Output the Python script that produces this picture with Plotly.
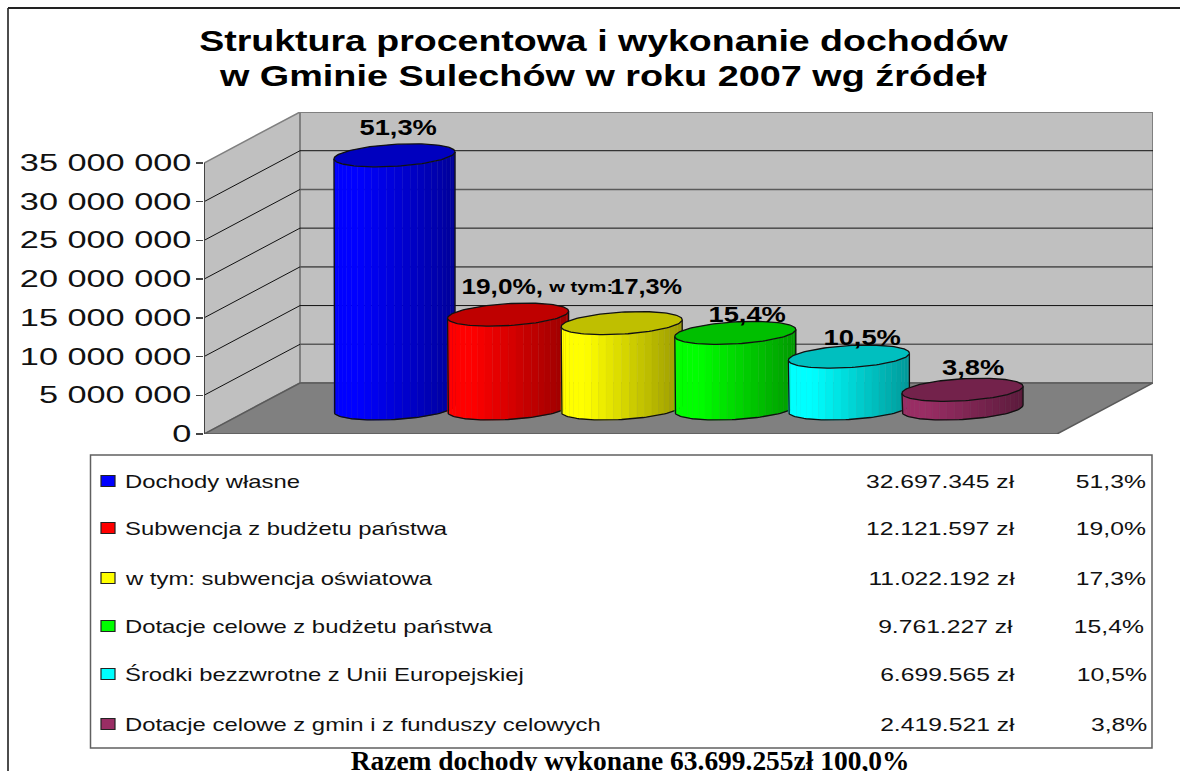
import json
import math
import plotly.graph_objects as go

# ---- data ----
series_names = ["Dochody własne", "Subwencja z budżetu państwa", "w tym: subwencja oświatowa",
                "Dotacje celowe z budżetu państwa", "Środki bezzwrotne z Unii Europejskiej",
                "Dotacje celowe z gmin i z funduszy celowych"]
values = [32697345, 12121597, 11022192, 9761227, 6699565, 2419521]
value_labels = ["32.697.345 zł", "12.121.597 zł", "11.022.192 zł", "9.761.227 zł", "6.699.565 zł", "2.419.521 zł"]
share_labels = ["51,3%", "19,0%", "17,3%", "15,4%", "10,5%", "3,8%"]
colors = [(0, 0, 255), (255, 0, 0), (255, 255, 0), (0, 255, 0), (0, 255, 255), (153, 45, 100)]
y_ticks = [0, 5000000, 10000000, 15000000, 20000000, 25000000, 30000000, 35000000]
title_lines = ["Struktura procentowa i wykonanie dochodów", "w Gminie Sulechów w roku 2007 wg źródeł"]
footer = "Razem dochody wykonane 63.699.255zł 100,0%"

# ---- layout constants ----
W, H = 1180, 771
PLOT_L, PLOT_R, PLOT_T, PLOT_B = 204, 1153, 112, 434
FRONT_TOP = 163
PX_PER_Y = (PLOT_B - FRONT_TOP) / 35e6
PX_PER_X = 113.6
FIRST_BAR = 346.5
DEPTH_X, DEPTH_Y = 96 / PX_PER_X, 51 / PX_PER_Y
X0 = (PLOT_L - FIRST_BAR) / PX_PER_X
X1 = (PLOT_R - FIRST_BAR) / PX_PER_X
Y1 = (PLOT_B - PLOT_T) / PX_PER_Y
YTOP = 35e6
FRONT_R = X1 - DEPTH_X

def px(x): return x / W
def py(y): return 1 - y / H

fig = go.Figure()

def poly(pts):
    return "M" + " L".join(f"{a},{b}" for a, b in pts) + " Z"

shapes = [
    dict(type="path", path=poly([(X0, 0), (X0 + DEPTH_X, DEPTH_Y), (X0 + DEPTH_X, YTOP + DEPTH_Y), (X0, YTOP)]),
         fillcolor="#c0c0c0", line=dict(color="#808080", width=1.5), layer="below"),
    dict(type="path", path=poly([(X0 + DEPTH_X, DEPTH_Y), (X1, DEPTH_Y), (X1, YTOP + DEPTH_Y), (X0 + DEPTH_X, YTOP + DEPTH_Y)]),
         fillcolor="#c0c0c0", line=dict(color="#808080", width=2), layer="below"),
    dict(type="path", path=poly([(X0, 0), (FRONT_R, 0), (X1, DEPTH_Y), (X0 + DEPTH_X, DEPTH_Y)]),
         fillcolor="#808080", line=dict(color="#5a5a5a", width=1.5), layer="below"),
]
for k, t in enumerate(y_ticks[1:-1]):
    gridcolor = "#5a5a5a" if k % 2 == 0 else "#111111"
    gridw = 1.6 if k % 2 == 0 else 1
    shapes.append(dict(type="line", x0=X0, y0=t, x1=X0 + DEPTH_X, y1=t + DEPTH_Y,
                       line=dict(color="#111111", width=1), layer="below"))
    shapes.append(dict(type="line", x0=X0 + DEPTH_X, y0=t + DEPTH_Y, x1=X1, y1=t + DEPTH_Y,
                       line=dict(color=gridcolor, width=gridw), layer="below"))
shapes.append(dict(type="line", x0=X0, y0=0, x1=X0, y1=YTOP, line=dict(color="#444444", width=2), layer="below"))

# cylinders
A = 60.5 / PX_PER_X
B = 11 / PX_PER_Y
S = 3.5 / PX_PER_Y
STRIPS = 24

def rim(cx, cy, t):
    return cx + A * math.cos(t), cy + B * math.sin(t) + S * math.cos(t)

def shade(c, f):
    return "rgb(%d,%d,%d)" % tuple(round(v * f) for v in c)

for i, (v, c) in enumerate(zip(values, colors)):
    cx = i + DEPTH_X / 2
    base, top = DEPTH_Y / 2, v + DEPTH_Y / 2
    for s in range(STRIPS):
        t0 = math.pi + math.pi * s / STRIPS
        t1 = math.pi + math.pi * (s + 1) / STRIPS
        pts = [rim(cx, base, t0), rim(cx, base, t1), rim(cx, top, t1), rim(cx, top, t0)]
        frac = (rim(cx, 0, (t0 + t1) / 2)[0] - (cx - A)) / (2 * A)
        f = 1.0 if frac < 0.2 else 1.0 - 0.4 * (frac - 0.2) / 0.8
        fig.add_trace(go.Scatter(x=[p[0] for p in pts] + [pts[0][0]], y=[p[1] for p in pts] + [pts[0][1]],
                                 mode="lines", fill="toself", fillcolor=shade(c, f),
                                 line=dict(color=shade(c, f), width=0.4),
                                 hoverinfo="skip", showlegend=False))
    n = 60
    outline = [rim(cx, top, math.pi)] + [rim(cx, base, math.pi + math.pi * k / n) for k in range(n + 1)] + [rim(cx, top, 0)]
    fig.add_trace(go.Scatter(x=[p[0] for p in outline], y=[p[1] for p in outline],
                             mode="lines", line=dict(color="#111111", width=1.3), hoverinfo="skip", showlegend=False))
    capn = 2 * n
    cap = [rim(cx, top, 2 * math.pi * k / capn) for k in range(capn + 1)]
    fig.add_trace(go.Scatter(x=[p[0] for p in cap], y=[p[1] for p in cap], mode="lines", fill="toself",
                             fillcolor=shade(c, 0.75), line=dict(color="#111111", width=1.3),
                             hoverinfo="skip", showlegend=False))

annotations = []
stretch = {}

def note(text, x, y, size, anchor="center", family="Liberation Sans", bold=False, factor=1.0, color="#000000"):
    nudge = {"left": -2, "right": 2, "center": 0}[anchor]
    annotations.append(dict(text=text, x=px(x + nudge), y=py(y), xref="paper", yref="paper", showarrow=False,
                            xanchor=anchor, yanchor="middle", align=anchor,
                            font=dict(family=family, size=size, color=color, weight=700 if bold else 400)))
    stretch[text] = factor

def data_label(text, x, v, dy_px, size=22, factor=1.24):
    annotations.append(dict(text=text, x=x, y=v + DEPTH_Y / 2 + dy_px / PX_PER_Y, xref="x", yref="y",
                            showarrow=False, xanchor="center", yanchor="middle",
                            font=dict(family="Liberation Sans", size=size, color="#000000", weight=700)))
    stretch[text] = factor

# titles
note(title_lines[0], 603, 40, 30, bold=True, factor=1.25)
note(title_lines[1], 603, 76, 30, bold=True, factor=1.26)

# data labels
data_label(share_labels[0], 0 + DEPTH_X / 2 + 0.03, values[0], 28)
data_label(share_labels[1] + ",", 1 + DEPTH_X / 2 - 0.05, values[1], 28, factor=1.19)
data_label("w tym:", 1 + DEPTH_X / 2 + 0.64, values[1], 28, size=14, factor=1.44)
data_label(share_labels[2], 2 + DEPTH_X / 2 + 0.215, values[2], 36.7, factor=1.15)
data_label(share_labels[3], 3 + DEPTH_X / 2 + 0.105, values[3], 18.5)
data_label(share_labels[4], 4 + DEPTH_X / 2 + 0.115, values[4], 19)
data_label(share_labels[5], 5 + DEPTH_X / 2 + 0.09, values[5], 22)

# legend box
shapes.append(dict(type="rect", xref="paper", yref="paper", x0=px(90.5), x1=px(1152), y0=py(748), y1=py(455),
                   fillcolor="#ffffff", line=dict(color="#606060", width=1.5)))
rows = [481, 528, 578, 626, 674, 724]
value_right = [1015, 1015, 1015, 1013, 1015, 1015]
share_right = [1146, 1146, 1146, 1144, 1147, 1147]
for name, val, share, c, ry, vr, sr in zip(series_names, value_labels, share_labels, colors, rows, value_right, share_right):
    shapes.append(dict(type="rect", xref="paper", yref="paper", x0=px(101), x1=px(115), y0=py(ry + 5.5), y1=py(ry - 5.5),
                       fillcolor="rgb(%d,%d,%d)" % c, line=dict(color="#222222", width=1.2)))
    note(name, 125, ry, 19, anchor="left", factor=1.255, color="#111111")
    note(val, vr, ry, 19, anchor="right", factor=1.298, color="#111111")
    note(share + "\u200b", sr, ry, 19, anchor="right", factor=1.3, color="#111111")

# footer: the reference cuts its descenders at the page edge
note(footer, 630, 760, 28, family="Liberation Serif", bold=True, factor=0.98)

# frame
shapes.append(dict(type="line", xref="paper", yref="paper", x0=px(8), x1=px(8), y0=0, y1=py(8), line=dict(color="#111111", width=1.5)))
shapes.append(dict(type="line", xref="paper", yref="paper", x0=px(8), x1=1, y0=py(8), y1=py(8), line=dict(color="#222222", width=2)))

fig.update_layout(
    width=W, height=H, autosize=False, paper_bgcolor="#ffffff", plot_bgcolor="rgba(0,0,0,0)",
    margin=dict(l=0, r=0, t=0, b=0, autoexpand=False), showlegend=False, separators=", ",
    xaxis=dict(domain=[px(PLOT_L), px(PLOT_R)], range=[X0, X1], visible=False, fixedrange=True),
    yaxis=dict(domain=[py(PLOT_B), py(PLOT_T)], range=[0, Y1], showgrid=False, zeroline=False, showline=False,
               tickvals=y_ticks, tickformat=",d", ticks="outside", ticklen=7, tickwidth=1.5, tickcolor="#444444",
               tickfont=dict(family="Liberation Sans", size=23, color="#111111"), ticklabelstandoff=0, fixedrange=True),
    shapes=shapes, annotations=annotations,
)

post = """
document.documentElement.style.overflow='hidden';
document.body.style.margin='0';
var gd=document.getElementById('{plot_id}');
var STRETCH=%s;
function st(el,f){ if(f===1||el.getAttribute('textLength'))return; var w=el.getComputedTextLength();
  el.setAttribute('textLength',w*f); el.setAttribute('lengthAdjust','spacingAndGlyphs'); }
function run(){
  gd.querySelectorAll('.ytick text').forEach(function(e){st(e,1.49);});
  gd.querySelectorAll('.annotation-text').forEach(function(e){ var f=STRETCH[e.textContent]; if(f)st(e,f); });
}
run(); gd.on('plotly_afterplot',run);
""" % json.dumps(stretch)

fig.write_html("out.html", config=dict(displayModeBar=False, staticPlot=True), post_script=post)
